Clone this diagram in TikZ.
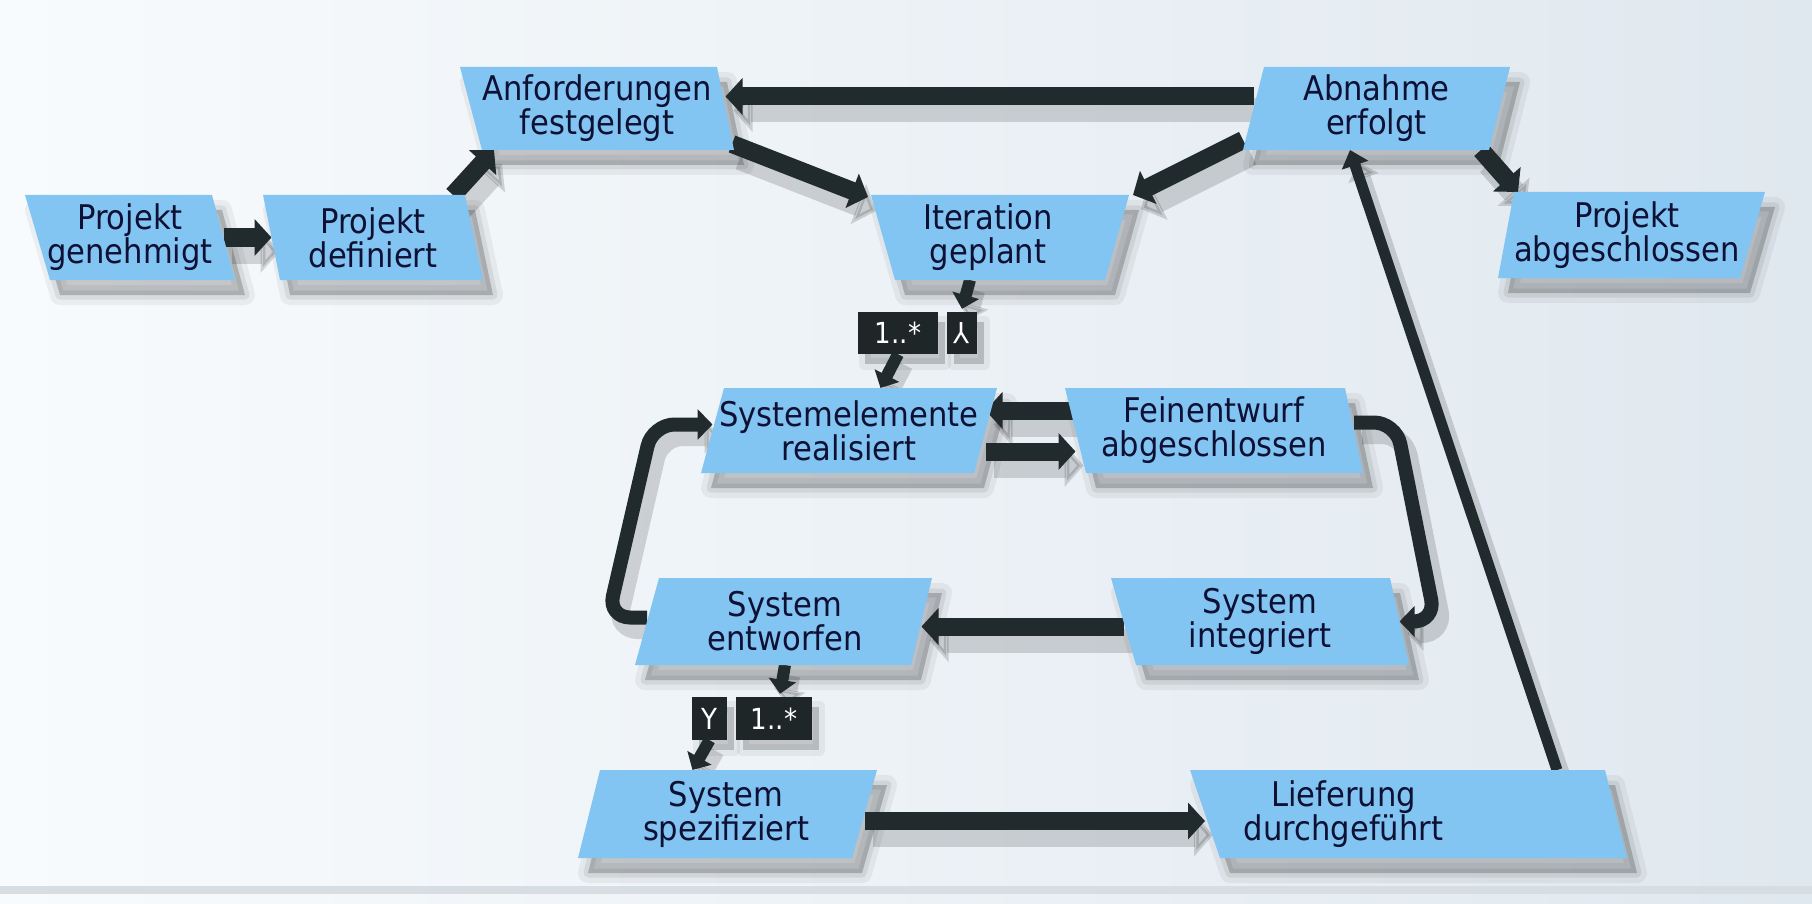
\documentclass[tikz,border=0pt]{standalone}
\usepackage{fontspec}
\setmainfont{DejaVu Sans Condensed}
\usetikzlibrary{arrows.meta,calc}
\definecolor{boxblue}{RGB}{130,197,242}
\definecolor{txtc}{RGB}{14,16,52}
\definecolor{arrc}{RGB}{33,42,44}
\definecolor{bgL}{RGB}{248,251,253}
\definecolor{bgR}{RGB}{224,232,239}
\definecolor{bgB}{RGB}{214,222,228}
\definecolor{labc}{RGB}{30,38,40}
\pgfdeclarelayer{back}
\pgfdeclarelayer{shad}
\pgfdeclarelayer{conn}
\pgfsetlayers{back,shad,conn,main}
% name, TLx, TRx, BLx, BRx, ytop, ybottom, text
\newcommand{\mybox}[8]{%
  \coordinate (#1-tl) at (#2,#6);
  \coordinate (#1-tr) at (#3,#6);
  \coordinate (#1-bl) at (#4,#7);
  \coordinate (#1-br) at (#5,#7);
  \coordinate (#1-l) at ($(#1-tl)!0.5!(#1-bl)$);
  \coordinate (#1-r) at ($(#1-tr)!0.5!(#1-br)$);
  \coordinate (#1-t) at ($(#1-tl)!0.5!(#1-tr)$);
  \coordinate (#1-b) at ($(#1-bl)!0.5!(#1-br)$);
  \begin{pgfonlayer}{shad}
    \begin{scope}[transform canvas={shift={(10pt,-15pt)}}]
      \path[draw=black, draw opacity=0.05, line width=20pt, line join=round] (#1-tl) -- (#1-tr) -- (#1-br) -- (#1-bl) -- cycle;
      \path[draw=black, draw opacity=0.07, line width=9pt, line join=round] (#1-tl) -- (#1-tr) -- (#1-br) -- (#1-bl) -- cycle;
      \path[fill=black, fill opacity=0.2] (#1-tl) -- (#1-tr) -- (#1-br) -- (#1-bl) -- cycle;
    \end{scope}
  \end{pgfonlayer}
  \fill[boxblue] (#1-tl) -- (#1-tr) -- (#1-br) -- (#1-bl) -- cycle;
  \node[txt] (#1) at ($(#1-tl)!0.5!(#1-br)$) {#8};
}
\begin{document}
\begin{tikzpicture}[x=1pt,y=-1pt,
  txt/.style={align=center, text=txtc, font=\fontsize{34}{34}\selectfont, inner sep=0pt},
  lab/.style={fill=labc, text=white, inner sep=0pt, font=\fontsize{29}{30}\selectfont,
    minimum height=42pt},
  bigarr/.style={draw=arrc, line width=18pt, -{Triangle[length=17pt,width=36pt]},
    preaction={draw=black, opacity=0.15, line width=24pt, -{Triangle[length=19pt,width=42pt]},
      transform canvas={shift={(8pt,-14pt)}}}},
  midarr/.style={draw=arrc, line width=12pt, -{Triangle[length=14pt,width=27pt]},
    preaction={draw=black, opacity=0.15, line width=16pt, -{Triangle[length=15pt,width=31pt]},
      transform canvas={shift={(7pt,-11pt)}}}},
  looparr/.style={draw=arrc, line width=14pt, -{Triangle[length=15pt,width=30pt]},
    preaction={draw=black, opacity=0.15, line width=19pt, -{Triangle[length=16pt,width=34pt]},
      transform canvas={shift={(8pt,-12pt)}}}},
  thinarr/.style={draw=arrc, line width=11pt, -{Triangle[length=16pt,width=27pt]},
    preaction={draw=black, opacity=0.15, line width=15pt, -{Triangle[length=17pt,width=31pt]},
      transform canvas={shift={(8pt,-12pt)}}}}
]
\useasboundingbox (0,0) rectangle (1812,904);
\begin{pgfonlayer}{back}
  \fill[left color=bgL, right color=bgR] (0,0) rectangle (1812,904);
  \fill[bgB] (0,886) rectangle (1812,894);
\end{pgfonlayer}

% boxes
\mybox{gen}{25}{212}{50}{235}{195}{280}{Projekt\\genehmigt}
\mybox{def}{263}{465}{280}{483}{195}{280}{Projekt\\definiert}
\mybox{anf}{460}{717}{482}{734}{67}{150}{Anforderungen\\festgelegt}
\mybox{abn}{1264}{1510}{1243}{1489}{67}{150}{Abnahme\\erfolgt}
\mybox{ite}{871}{1129}{895}{1105}{195}{280}{Iteration\\geplant}
\mybox{pab}{1514}{1765}{1498}{1740}{192}{278}{Projekt\\abgeschlossen}
\mybox{sys}{724}{997}{701}{974}{388}{473}{Systemelemente\\realisiert}
\mybox{fei}{1065}{1345}{1086}{1363}{388}{473}{Feinentwurf\\abgeschlossen}
\mybox{ent}{659}{932}{635}{911}{578}{665}{System\\entworfen}
\mybox{int}{1111}{1390}{1136}{1409}{578}{665}{System\\integriert}
\mybox{spe}{600}{877}{578}{852}{770}{858}{System\\spezifiziert}
\mybox{lie}{1190}{1605}{1220}{1627}{770}{858}{}
\node[txt] (lietxt) at ($(lie)+(-65,0)$) {Lieferung\\durchgeführt};

% labels
\node[lab, minimum width=80pt] (l1) at (898,333) {1..*};
\node[lab, minimum width=30pt] (l2) at (962,333) {\rotatebox[origin=c]{180}{Y}};
\node[lab, minimum width=35pt, minimum height=43pt] (l3) at (709.5,718.5) {Y};
\node[lab, minimum width=76pt, minimum height=43pt] (l4) at (774,718.5) {1..*};
\begin{pgfonlayer}{shad}
  \begin{scope}[transform canvas={shift={(7pt,-10pt)}}]
  \foreach \n in {l1,l2,l3,l4} {
    \path[draw=black, draw opacity=0.05, line width=12pt, line join=round] (\n.north west) rectangle (\n.south east);
    \path[fill=black, fill opacity=0.18] (\n.north west) rectangle (\n.south east);
  }
  \end{scope}
\end{pgfonlayer}

% connectors
\begin{pgfonlayer}{conn}
\draw[bigarr] (gen-r) -- (def-l);
\draw[bigarr] ($(def-tr)+(-12,0)$) -- ($(anf-bl)+(12,0)$);
\draw[bigarr] ($(anf-br)+(-2,-6)$) -- ($(ite-tl)+(-3,2)$);
\draw[bigarr] ($(abn-l)+(0,-12)$) -- ($(anf-r)+(0,-12)$);
\draw[bigarr] ($(abn-bl)+(0,-10)$) -- ($(ite-tr)+(4,0)$);
\draw[bigarr] ($(abn-br)+(-8,0)$) -- ($(pab-tl)+(4,0)$);
\draw[thinarr] ($(lie-tr)+(-48,0)$) -- ($(abn-b)+(-16,0)$);
\draw[midarr] ($(ite-b)+(-30,0)$) -- ($(l2.north)+(0,-3)$);
\draw[midarr] (l1.south) -- ($(sys-t)+(20,0)$);
\draw[bigarr] ($(fei-l)+(0,-20)$) -- ($(sys-r)+(0,-20)$);
\draw[bigarr] ($(sys-r)+(0,21)$) -- ($(fei-l)+(0,21)$);
\draw[bigarr] ($(int-l)+(0,5)$) -- ($(ent-r)+(0,5)$);
\draw[looparr, rounded corners=22pt] ($(ent-l)+(0,-4)$) -- ($(ent-l)+(-39,-4)$) -- ($(sys-l)+(-60,-6)$) -- ($(sys-l)+(0,-6)$);
\draw[looparr, rounded corners=22pt] ($(fei-r)+(0,-8)$) -- ($(fei-r)+(42,-8)$) -- ($(int-r)+(36,0)$) -- (int-r);
\draw[midarr] ($(ent-b)+(12,0)$) -- ($(l4.north)+(6,-3)$);
\draw[midarr] (l3.south) -- ($(spe-t)+(-46,0)$);
\draw[bigarr] ($(spe-r)+(0,7)$) -- ($(lie-l)+(0,7)$);
\end{pgfonlayer}
\end{tikzpicture}
\end{document}
